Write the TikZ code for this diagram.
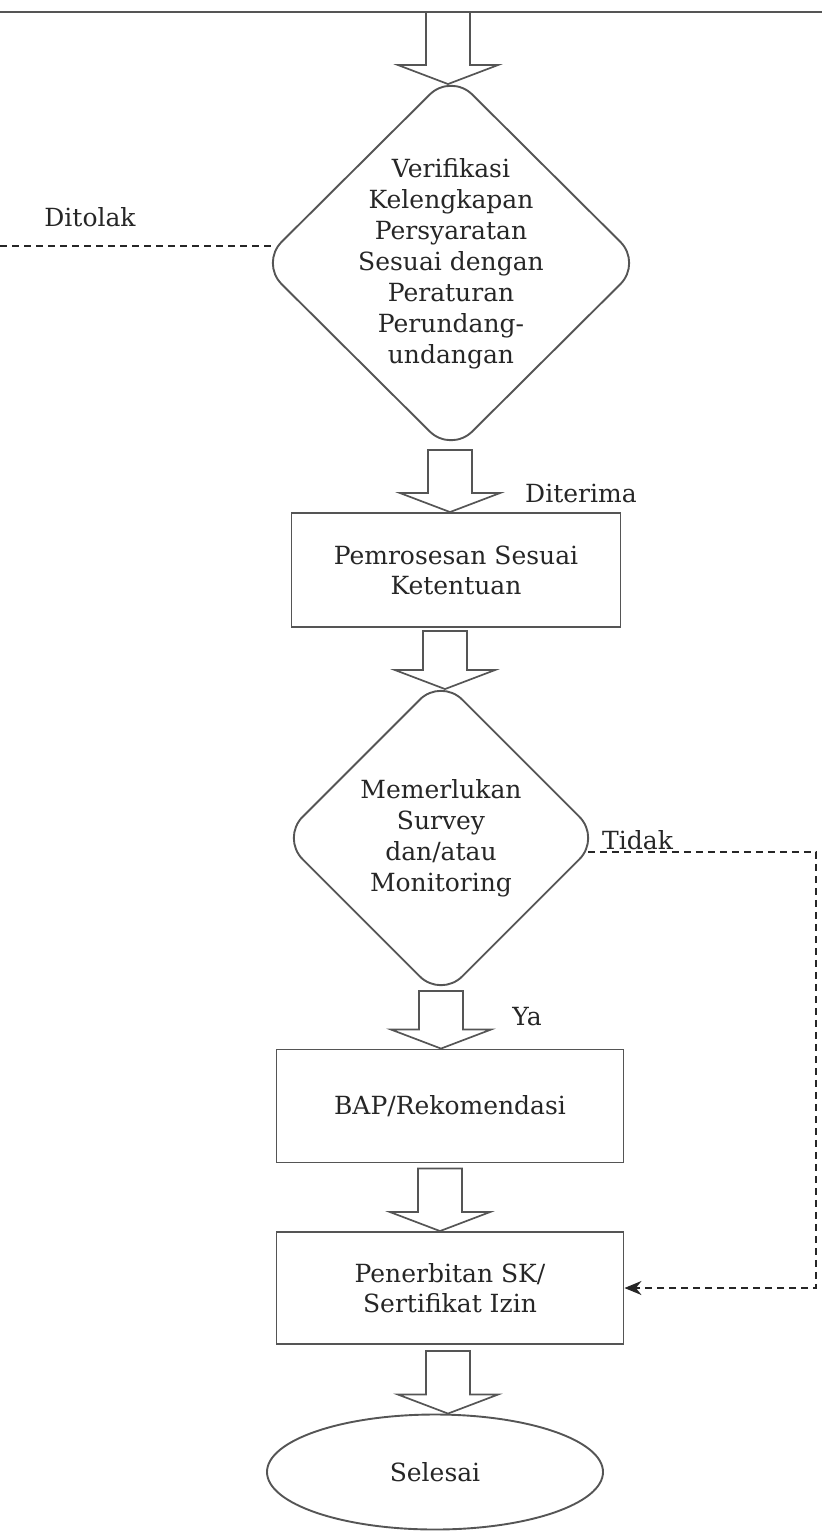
\documentclass[tikz,border=0pt]{standalone}
\usepackage{fontspec}
\setmainfont{DejaVu Serif}
\usetikzlibrary{shapes.geometric,arrows.meta,calc}
\definecolor{ln}{HTML}{555555}
\definecolor{tx}{HTML}{262626}
\newcommand\barrow[5]{%
 \path[blockarr] let \p1=(#2), \p2=(#4) in
 ({#1pt-22pt},{\y1-(#3pt)}) -- ({#1pt-22pt},{\y2-(#5pt)+19pt}) -- ({#1pt-50pt},{\y2-(#5pt)+19pt})
 -- ({#1pt},{\y2-(#5pt)}) -- ({#1pt+50pt},{\y2-(#5pt)+19pt}) -- ({#1pt+22pt},{\y2-(#5pt)+19pt})
 -- ({#1pt+22pt},{\y1-(#3pt)}) -- cycle;}
\begin{document}
\begin{tikzpicture}[x=1pt,y=-1pt,
 every node/.style={text=tx, font=\fontsize{25}{30}\selectfont},
 boxnode/.style={draw=ln, line width=1.9pt, rectangle, align=center, inner sep=0pt},
 decision/.style={draw=ln, line width=1.9pt, diamond, rounded corners=30pt, inner sep=0pt},
 endnode/.style={draw=ln, line width=1.9pt, ellipse, inner sep=0pt},
 lbl/.style={align=center, inner sep=0pt},
 dlbl/.style={align=center, inner sep=0pt, font=\fontsize{25}{31}\selectfont},
 blockarr/.style={draw=ln, fill=white, line width=1.7pt, line join=miter},
 dashline/.style={draw=tx, line width=1.7pt, dash pattern=on 7pt off 5pt}]
\useasboundingbox (0,0) rectangle (822,1533);

% top line
\coordinate (tl) at (0,12);
\coordinate (tr) at (822,12);
\coordinate (tc) at (448,12);
\draw[ln, line width=2.4pt] (tl) -- (tr);

% nodes
\node[decision, minimum width=382pt, minimum height=380pt] (d1) at (451,263) {};
\node[dlbl] (d1t) at (451,264) {Verifikasi\\Kelengkapan\\Persyaratan\\Sesuai dengan\\Peraturan\\Perundang-\\undangan};

\node[boxnode, minimum width=329pt, minimum height=114pt] (b1) at (456,570) {Pemrosesan Sesuai\\Ketentuan};

\node[decision, minimum width=320pt, minimum height=320pt] (d2) at (441,838) {};
\node[dlbl] (d2t) at (d2.center) {Memerlukan\\Survey\\dan/atau\\Monitoring};

\node[boxnode, minimum width=347pt, minimum height=113pt] (b2) at (450,1106) {BAP/Rekomendasi};
\node[boxnode, minimum width=347pt, minimum height=112pt] (b3) at (450,1288) {Penerbitan SK/\\Sertifikat Izin};
\node[endnode, minimum width=336pt, minimum height=115pt] (e1) at (435,1472) {Selesai};

% labels
\node[lbl] (ditolak) at (90,217) {Ditolak};
\node[lbl, anchor=base west] (diterima) at (525,502) {Diterima};
\node[lbl, anchor=base west] (tidak) at (602,849) {Tidak};
\node[lbl] (ya) at (527,1017) {Ya};

% block arrows
\barrow{448}{tc}{0}{d1.north}{12}
\barrow{450}{d1.south}{-4}{b1.north}{0}
\barrow{445}{b1.south}{3}{d2.north}{12}
\barrow{441}{d2.south}{-8}{b2.north}{0}
\barrow{440}{b2.south}{5}{b3.north}{0}
\barrow{448}{b3.south}{6}{e1.north}{0}

% dashed connectors
\coordinate (dl) at (0,246);
\draw[dashline, shorten >=-14pt] (dl) -- (dl -| d1.west);
\coordinate (cr) at (816,852);
\draw[dashline, shorten <=-14pt, -{Stealth[length=17pt,width=14pt]}]
  ([yshift=-14pt]d2.east) -- (cr) |- (b3.east);
\end{tikzpicture}
\end{document}
